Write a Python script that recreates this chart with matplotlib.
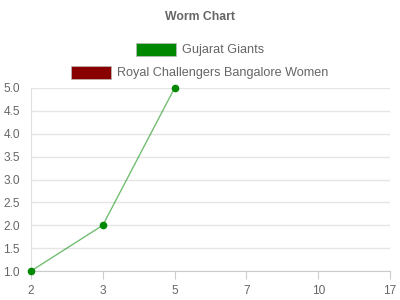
import matplotlib
matplotlib.use("Agg")
import matplotlib.pyplot as plt
from matplotlib.patches import Rectangle

plt.rcParams["font.family"] = ["Liberation Sans", "DejaVu Sans"]

# data
overs = ["2", "3", "5", "7", "10", "17"]
gg_runs = [1, 2, 5]
series_names = ["Gujarat Giants", "Royal Challengers Bangalore Women"]
series_colors = ["#008800", "#880000"]

grey = "#666666"
fs = 8.6
fig = plt.figure(figsize=(4, 3), dpi=100)
ax = fig.add_axes([31 / 400, 1 - 271 / 300, 359 / 400, 183 / 300])

x = list(range(len(gg_runs)))
ax.plot(x, gg_runs, color=series_colors[0], alpha=0.55, linewidth=1, zorder=3)
ax.scatter(x, gg_runs, s=20, color=series_colors[0], zorder=4, clip_on=False)

ax.set_xlim(0, len(overs) - 1)
ax.set_ylim(1.0, 5.0)
ax.set_xticks(range(len(overs)))
ax.set_xticklabels(overs)
ax.set_yticks([1.0 + 0.5 * i for i in range(9)])
ax.set_yticklabels([f"{1.0 + 0.5 * i:.1f}" for i in range(9)])

ax.grid(axis="y", color="#e5e5e5", linewidth=1)
ax.set_axisbelow(True)
for s in ["top", "right"]:
    ax.spines[s].set_visible(False)
ax.spines["left"].set_color("#e0e0e0")
ax.spines["bottom"].set_color("#cccccc")
ax.tick_params(axis="x", colors="#cccccc", labelcolor=grey, labelsize=fs, length=6, pad=4)
ax.tick_params(axis="y", length=0, labelcolor=grey, labelsize=fs, pad=8)

fig.text(0.5, 1 - 17 / 300, "Worm Chart", ha="center", va="center",
         fontsize=fs + 0.2, fontweight="bold", color=grey)

# legend, centred rows like the original
rows_y = [49, 72]
for name, col, yy in zip(series_names, series_colors, rows_y):
    t = fig.text(0.5, 0, name, fontsize=9.1, color=grey)
    fig.canvas.draw()
    w = t.get_window_extent().width
    total = 40 + 6 + w
    x0 = 200 - total / 2
    t.set_position(((x0 + 46) / 400, 1 - (yy + 1) / 300))
    t.set_va("center")
    fig.add_artist(Rectangle((x0 / 400, 1 - (yy + 7) / 300), 40 / 400, 13 / 300,
                             transform=fig.transFigure, facecolor=col,
                             edgecolor="#bbbbbb", linewidth=0.5))

fig.savefig("out.png", dpi=100)
